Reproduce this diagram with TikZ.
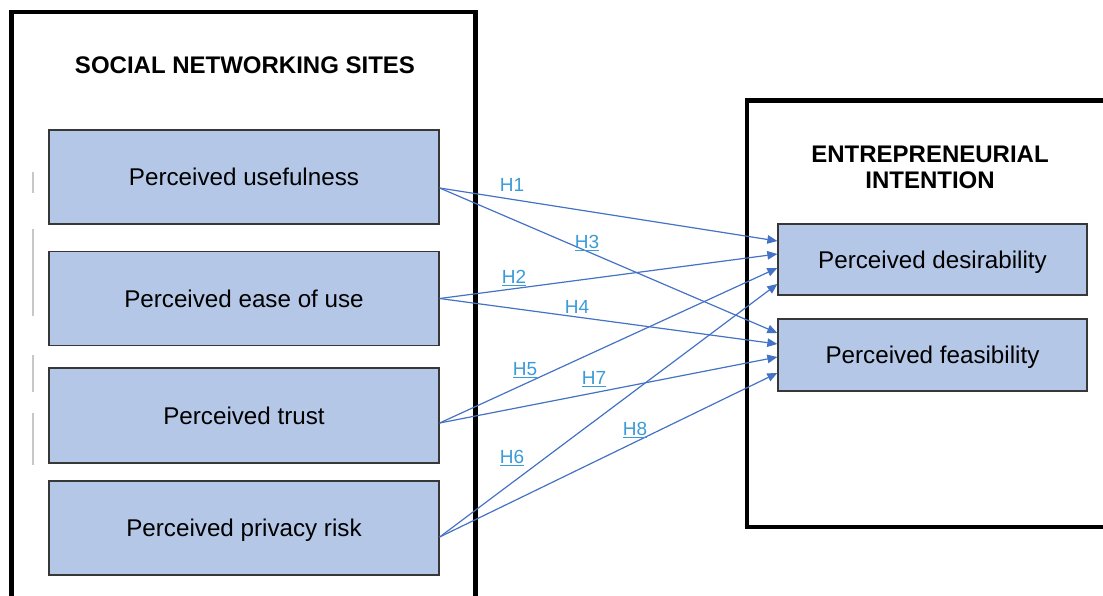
\documentclass[tikz,border=0pt]{standalone}
\usepackage{fontspec}
\setmainfont{Liberation Sans}
\usetikzlibrary{arrows.meta}
\definecolor{boxfill}{RGB}{180,199,231}
\definecolor{boxline}{RGB}{55,55,55}
\definecolor{linkblue}{RGB}{68,114,196}
\definecolor{labelblue}{RGB}{58,155,215}
\definecolor{guide}{RGB}{200,200,200}
% underlined hypothesis label with a rule of fixed thickness
\newcommand{\hul}[1]{\leavevmode\setbox0\hbox{#1}\rlap{\rule[-2.8pt]{\wd0}{1.1pt}}\box0}
\begin{document}
\begin{tikzpicture}[x=1pt,y=-1pt,
  frame/.style={draw=black,line width=4.5pt},
  sbox/.style={draw=boxline,fill=boxfill,line width=1.3pt,inner sep=0pt,
    minimum width=390pt,minimum height=94pt,
    font=\fontsize{24.2}{26}\selectfont,text height=21pt,text depth=4pt},
  tbox/.style={sbox,minimum width=309pt,minimum height=71pt},
  heading/.style={inner sep=0pt,align=center,font=\bfseries\fontsize{24}{26}\selectfont},
  hlab/.style={text=labelblue,inner sep=0pt,anchor=base,font=\fontsize{19}{22}\selectfont},
  link/.style={draw=linkblue,line width=1.2pt,-{Triangle[length=10pt,width=8.5pt]}},
  guideline/.style={draw=guide,line width=1.5pt}]
\useasboundingbox (0,0) rectangle (1103,595);
\clip (0,0) rectangle (1103,595);

% outer frames
\draw[frame] (11.5,620) |- (475.5,12) -- (475.5,620);
\draw[frame] (1130,100.5) -| (747,527) -- (1130,527);

% faint guide marks on the left
\draw[guideline] (33,172) -- (33,193);
\draw[guideline] (33,229) -- (33,316);
\draw[guideline] (33,355) -- (33,392);
\draw[guideline] (33,413) -- (33,465);

% headings
\node[heading] (snsTitle) at (245,65.5) {SOCIAL NETWORKING SITES};
\node[heading] (eiTitle) at (930,167.5) {ENTREPRENEURIAL\\INTENTION};

% antecedents
\node[sbox] (u) at (244,177) {Perceived usefulness};
\node[sbox] (e) at (244,298.5) {Perceived ease of use};
\node[sbox,minimum height=95pt] (t) at (244,415.5) {Perceived trust};
\node[sbox] (p) at (244,528) {Perceived privacy risk};

% outcomes
\node[tbox] (d) at (932.5,259.5) {Perceived desirability};
\node[tbox,minimum height=72pt] (f) at (932.5,355) {Perceived feasibility};

% hypothesised paths
\draw[link] ([yshift=-11pt]u.east) -- ([yshift=18.5pt]d.west);
\draw[link] ([yshift=-11pt]u.east) -- ([yshift=22pt]f.west);
\draw[link] (e.east) -- ([yshift=5.5pt]d.west);
\draw[link] (e.east) -- ([yshift=11pt]f.west);
\draw[link] ([yshift=-7.5pt]t.east) -- ([yshift=-8.5pt]d.west);
\draw[link] ([yshift=-7.5pt]t.east) -- ([yshift=-2pt]f.west);
\draw[link] ([yshift=-9pt]p.east) -- ([yshift=-24.5pt]d.west);
\draw[link] ([yshift=-9pt]p.east) -- ([yshift=-18pt]f.west);

% hypothesis labels
\node[hlab] (h1) at (512,191) {H1};
\node[hlab] (h3) at (587,248) {\hul{H3}};
\node[hlab] (h2) at (514,283) {\hul{H2}};
\node[hlab] (h4) at (577,313) {H4};
\node[hlab] (h5) at (525,375) {\hul{H5}};
\node[hlab] (h7) at (594,384) {\hul{H7}};
\node[hlab] (h6) at (512,463) {\hul{H6}};
\node[hlab] (h8) at (635,435) {\hul{H8}};
\end{tikzpicture}
\end{document}
